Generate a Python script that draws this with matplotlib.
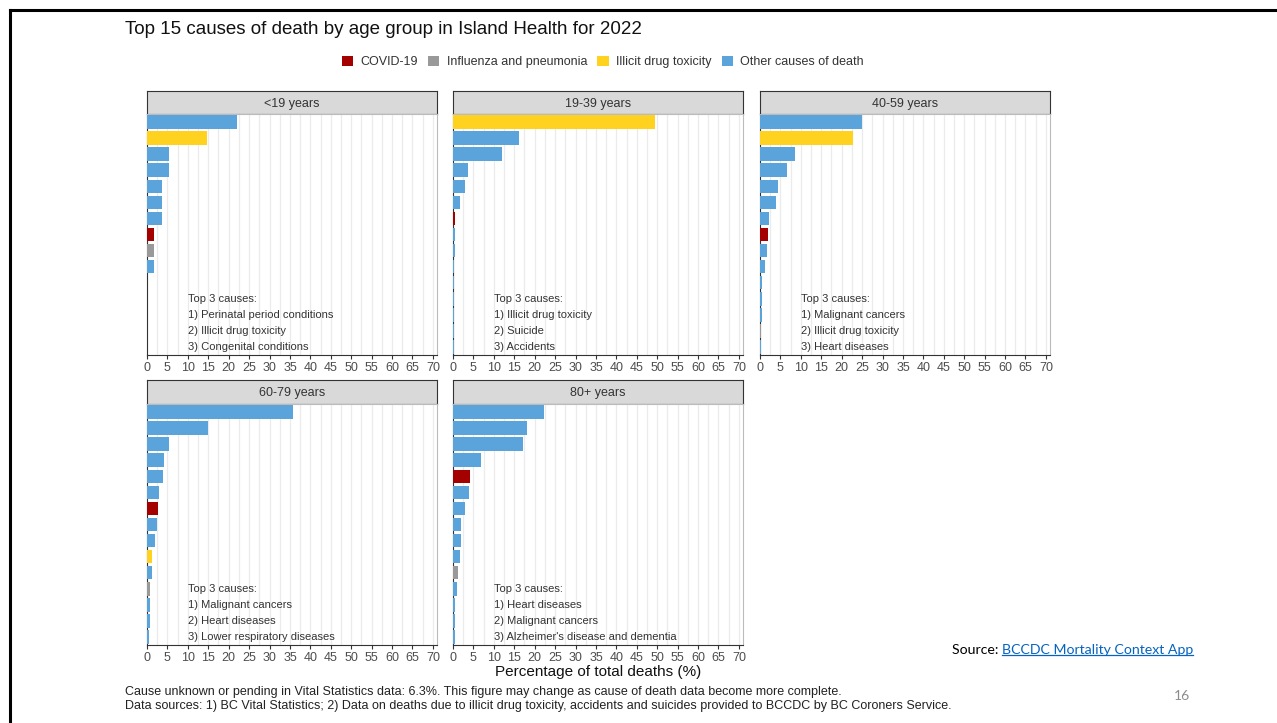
#!/usr/bin/env python3
# Top 15 causes of death by age group, Island Health 2022 (small multiples)

import matplotlib
matplotlib.use('Agg')
import matplotlib.pyplot as plt
from matplotlib.patches import Patch
from matplotlib.lines import Line2D

plt.rcParams['font.family'] = ['Liberation Sans', 'DejaVu Sans']

# data: share of total deaths (%) for the top 15 causes, ranked, per age group
age_groups = ['<19 years', '19-39 years', '40-59 years', '60-79 years', '80+ years']

pct_under19 = [22.0, 14.7, 5.4, 5.4, 3.7, 3.7, 3.7, 1.8, 1.8, 1.8, 0, 0, 0, 0, 0]
grp_under19 = ['O', 'D', 'O', 'O', 'O', 'O', 'O', 'C', 'F', 'O', 'O', 'O', 'O', 'O', 'O']

pct_19_39 = [49.4, 16.2, 12.0, 3.7, 3.0, 1.6, 0.6, 0.5, 0.5, 0.2, 0.2, 0.2, 0.2, 0.2, 0.2]
grp_19_39 = ['D', 'O', 'O', 'O', 'O', 'O', 'C', 'O', 'O', 'O', 'O', 'O', 'O', 'O', 'O']

pct_40_59 = [25.0, 22.8, 8.6, 6.6, 4.3, 4.0, 2.3, 1.9, 1.7, 1.2, 0.5, 0.5, 0.4, 0.2, 0.3]
grp_40_59 = ['O', 'D', 'O', 'O', 'O', 'O', 'O', 'C', 'O', 'O', 'O', 'O', 'O', 'F', 'O']

pct_60_79 = [35.7, 14.9, 5.3, 4.2, 3.8, 3.0, 2.8, 2.5, 1.9, 1.3, 1.2, 0.8, 0.8, 0.8, 0.6]
grp_60_79 = ['O', 'O', 'O', 'O', 'O', 'O', 'C', 'O', 'O', 'D', 'O', 'F', 'O', 'O', 'O']

pct_80plus = [22.3, 18.2, 17.2, 6.9, 4.1, 3.8, 2.9, 2.0, 2.0, 1.7, 1.3, 0.9, 0.5, 0.5, 0.4]
grp_80plus = ['O', 'O', 'O', 'O', 'C', 'O', 'O', 'O', 'O', 'O', 'F', 'O', 'O', 'O', 'O']

top3 = [
    ['Perinatal period conditions', 'Illicit drug toxicity', 'Congenital conditions'],
    ['Illicit drug toxicity', 'Suicide', 'Accidents'],
    ['Malignant cancers', 'Illicit drug toxicity', 'Heart diseases'],
    ['Malignant cancers', 'Heart diseases', 'Lower respiratory diseases'],
    ['Heart diseases', 'Malignant cancers', "Alzheimer's disease and dementia"],
]

legend_labels = ['COVID-19', 'Influenza and pneumonia', 'Illicit drug toxicity', 'Other causes of death']
legend_keys = ['C', 'F', 'D', 'O']
colors = {'C': '#a50000', 'F': '#999999', 'D': '#ffd21f', 'O': '#5ba3db'}

values = [pct_under19, pct_19_39, pct_40_59, pct_60_79, pct_80plus]
groups = [grp_under19, grp_19_39, grp_40_59, grp_60_79, grp_80plus]

W, H = 1277, 723
fig = plt.figure(figsize=(W / 100, H / 100), dpi=100)

def px_axes(x0, y0, x1, y1):
    # pixel box (top-left origin) -> figure axes
    return fig.add_axes([x0 / W, 1 - y1 / H, (x1 - x0) / W, (y1 - y0) / H])

col_x = [147, 453, 760]
row_y = [(91, 114, 355), (380, 404, 645)]
panel_w = 290

for k, name in enumerate(age_groups):
    r, c = divmod(k, 3)
    x0 = col_x[c]
    ys, yt, yb = row_y[r]

    # strip
    sax = px_axes(x0, ys, x0 + panel_w, yt)
    sax.set_facecolor('#d9d9d9')
    sax.set_xticks([])
    sax.set_yticks([])
    for s in sax.spines.values():
        s.set_color('#333333')
        s.set_linewidth(0.8)
    sax.text(0.5, 0.45, name, ha='center', va='center', fontsize=9, color='#333333',
             transform=sax.transAxes)

    ax = px_axes(x0, yt, x0 + panel_w, yb)
    ypos = [i for i, v in enumerate(values[k]) if v > 0]
    vals = [v for v in values[k] if v > 0]
    cols = [colors[g] for g, v in zip(groups[k], values[k]) if v > 0]
    ax.barh(ypos, vals, height=0.84, color=cols, edgecolor='none', zorder=3)
    ax.set_xlim(0, 71)
    ax.set_ylim(14.5, -0.5)
    ax.set_yticks([])
    ax.set_xticks(range(0, 71, 5))
    ax.set_xticks([v + 2.5 for v in range(0, 70, 5)], minor=True)
    ax.grid(axis='x', which='both', color='#ebebeb', linewidth=0.9, zorder=0)
    ax.tick_params(axis='x', which='major', labelsize=9, colors='#333333', length=3,
                   width=0.8, pad=2, labelcolor='#4d4d4d')
    ax.tick_params(axis='x', which='minor', length=0)
    for side, s in ax.spines.items():
        s.set_linewidth(0.8)
        s.set_color('#333333' if side in ('left', 'bottom') else '#bbbbbb')
    ax.set_axisbelow(True)

    ax.text(10, 11, 'Top 3 causes:', fontsize=8, color='#333333', va='center')
    for i, cause in enumerate(top3[k]):
        ax.text(10, 12 + i, f'{i + 1}) {cause}', fontsize=8, color='#333333', va='center')

# x axis title under the bottom row
fig.text(598 / W, 1 - 672 / H, 'Percentage of total deaths (%)', ha='center', va='center',
         fontsize=11, color='#111111')

# title and legend
fig.text(125 / W, 1 - 29 / H, 'Top 15 causes of death by age group in Island Health for 2022',
         ha='left', va='center', fontsize=13.5, color='#111111')
handles = [Patch(facecolor=colors[g], edgecolor='none') for g in legend_keys]
fig.legend(handles, legend_labels, loc='center', bbox_to_anchor=(603 / W, 1 - 62 / H),
           ncol=4, frameon=False, fontsize=9, handlelength=0.9, handleheight=0.9,
           handletextpad=0.6, columnspacing=0.8, labelcolor='#333333')

# footnotes
fig.text(125 / W, 1 - 692 / H,
         'Cause unknown or pending in Vital Statistics data: 6.3%. This figure may change as cause of death data become more complete.',
         ha='left', va='center', fontsize=9, color='#222222')
fig.text(125 / W, 1 - 706 / H,
         'Data sources: 1) BC Vital Statistics; 2) Data on deaths due to illicit drug toxicity, accidents and suicides provided to BCCDC by BC Coroners Service.',
         ha='left', va='center', fontsize=9, color='#222222')

# slide source link and page number
src = fig.text(952 / W, 1 - 650 / H, 'Source: ', ha='left', va='center', fontsize=10.2,
               family='Lato', color='black')
fig.canvas.draw()
bb = src.get_window_extent()
link = fig.text(bb.x1 / W, 1 - 650 / H, 'BCCDC Mortality Context App', ha='left', va='center',
                fontsize=10.2, family='Lato', color='#0563c1')
fig.canvas.draw()
lb = link.get_window_extent()
fig.add_artist(Line2D([lb.x0 / W, lb.x1 / W], [(lb.y0 + 1) / H, (lb.y0 + 1) / H],
                      color='#0563c1', linewidth=0.9, transform=fig.transFigure))
fig.text(1190 / W, 1 - 696 / H, '16', ha='right', va='center', fontsize=10, family='Lato',
         color='#8c8c8c')

# slide frame (top and left edges)
fig.add_artist(Line2D([9.5 / W, 1], [1 - 10 / H, 1 - 10 / H], color='black', linewidth=2.2,
                      transform=fig.transFigure))
fig.add_artist(Line2D([10 / W, 10 / W], [0, 1 - 10 / H], color='black', linewidth=2.2,
                      transform=fig.transFigure))

plt.savefig('out.png', dpi=100)
